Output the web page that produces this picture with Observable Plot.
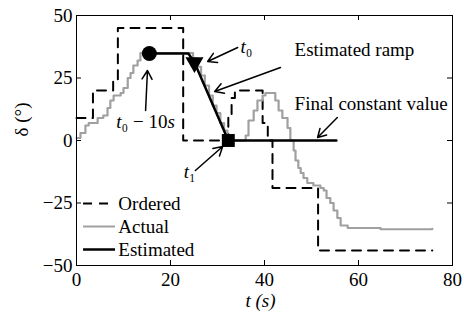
<!DOCTYPE html>
<html><head><meta charset="utf-8">
<script src="https://cdn.jsdelivr.net/npm/d3@7"></script>
<script src="https://cdn.jsdelivr.net/npm/@observablehq/plot@0.6"></script>
<style>body{margin:0;background:#fff} svg{display:block}</style>
</head><body><div id="chart"></div>
<script>
// ---- data ----
const seriesNames = ["Ordered", "Actual", "Estimated"];
const xTicks = [0, 20, 40, 60, 80];
const yTicks = [-50, -25, 0, 25, 50];
const xLabel = "t (s)";
const yLabel = "δ (°)";

const orderedT = [0, 3.5, 7.8, 8.8, 22.7, 32.3, 33, 33.7, 39.6, 40.7, 41.7, 51.4, 75.7];
const orderedV = [9, 20, 24, 45, 0, 10, 17, 20, 7, 0, -19, -44, -44];

const actualT = [0, 0.85, 1.9, 2.6, 4.5, 5.7, 6.6, 7.2, 7.9, 9.4, 10, 10.9, 11.5, 12.1, 13, 13.6, 15.5, 24, 24.8, 25.6, 26.5, 27.3, 28.2, 29, 29.8, 30.6, 31.4, 32.1, 32.5, 34.9, 36, 36.6, 37.7, 38.5, 39.6, 40.2, 41.7, 42.3, 43, 43.8, 44.9, 45.5, 46.2, 46.6, 47.2, 47.7, 48.3, 49.1, 50.4, 51.9, 52.6, 53.2, 54, 54.7, 55.5, 56.2, 57.7, 64.7, 75.7];
const actualV = [1, 3, 6, 7, 9, 10, 13, 16, 18, 19, 21, 25, 27, 30, 32, 35, 35, 35, 33, 29.5, 26, 22, 18, 14, 11, 7, 4, 1, 0, 0, 2, 8, 12, 16, 18, 19, 19, 16, 12, 9, 5, 0, -4, -8, -11, -13, -15, -17, -18, -19, -20, -23, -25, -28, -31, -34, -35, -35.5, -35.3];

const estimatedT = [15.5, 23.8, 25.1, 32.3, 55.3];
const estimatedV = [34.8, 34.8, 31.2, 0, 0];

const markerT = [15.5, 25.1, 32.3];
const markerV = [34.8, 31.2, 0];
const markerSymbols = ["circle", "triangle", "square"];

const annotationTexts = ["t₀ − 10s", "t₀", "Estimated ramp", "Final constant value", "t₁"];

// ---- build tables ----
const ordered = orderedT.map((t, i) => ({t, v: orderedV[i]}));
const actual = actualT.map((t, i) => ({t, v: actualV[i]}));
const estimated = estimatedT.map((t, i) => ({t, v: estimatedV[i]}));
const markers = markerT.map((t, i) => ({t, v: markerV[i], s: markerSymbols[i]}));

const styles = [
  {stroke: "black", strokeWidth: 2, dash: "9,7"},
  {stroke: "#a0a0a0", strokeWidth: 2.2, dash: null},
  {stroke: "black", strokeWidth: 2.5, dash: null}
];
const legend = seriesNames.map((name, i) => ({name, y: -25.2 - i * 9.2}));

const annoMiddle = [{text: annotationTexts[0], x: 14.7, y: 7.4}];
const annoStart = [
  {text: annotationTexts[1], x: 34.9, y: 37.4},
  {text: annotationTexts[2], x: 46.4, y: 36.4},
  {text: annotationTexts[3], x: 46.4, y: 14.6},
  {text: annotationTexts[4], x: 22.8, y: -12.4}
];
const arrows = [
  {x1: 14.7, y1: 12, x2: 15.1, y2: 28},
  {x1: 34.3, y1: 37.2, x2: 27.9, y2: 31.6},
  {x1: 43.4, y1: 29.2, x2: 29.4, y2: 19.6},
  {x1: 55.5, y1: 9.2, x2: 51.3, y2: 1.2},
  {x1: 25.3, y1: -12, x2: 31.1, y2: -2.4}
];

const serif = "'Liberation Serif', 'Times New Roman', serif";
const xDom = [0, 80], yDom = [-50, 50];
const tickX = 5 * (xDom[1] - xDom[0]) / 376;  // 5px inward in data units
const tickY = 5 * (yDom[1] - yDom[0]) / 250;

const chart = Plot.plot({
  width: 464, height: 321,
  marginLeft: 76, marginRight: 12, marginTop: 15, marginBottom: 56,
  x: {domain: xDom},
  y: {domain: yDom},
  style: {fontFamily: serif, fontSize: "19px", background: "white", color: "black"},
  marks: [
    Plot.line(ordered, {x: "t", y: "v", curve: "step-after", stroke: styles[0].stroke, strokeWidth: styles[0].strokeWidth, strokeDasharray: styles[0].dash}),
    Plot.line(actual, {x: "t", y: "v", curve: "step-after", stroke: styles[1].stroke, strokeWidth: styles[1].strokeWidth}),
    Plot.line(estimated, {x: "t", y: "v", stroke: styles[2].stroke, strokeWidth: styles[2].strokeWidth}),
    Plot.dot(markers.filter(d => d.s === "circle"), {x: "t", y: "v", symbol: "circle", r: 7.5, fill: "black"}),
    Plot.dot(markers.filter(d => d.s === "triangle"), {x: "t", y: "v", symbol: "triangle", r: 6.7, fill: "black", rotate: 180}),
    Plot.dot(markers.filter(d => d.s === "square"), {x: "t", y: "v", symbol: "square", r: 7.3, fill: "black"}),
    Plot.arrow(arrows, {x1: "x1", y1: "y1", x2: "x2", y2: "y2", stroke: "black", strokeWidth: 1.5, headLength: 10}),
    Plot.text(annoMiddle, {x: "x", y: "y", text: "text", textAnchor: "middle", fontSize: 19, fill: "black"}),
    Plot.text(annoStart, {x: "x", y: "y", text: "text", textAnchor: "start", fontSize: 19, fill: "black"}),
    // legend
    ...legend.map((d, i) => Plot.ruleY([d], {y: "y", x1: 1.5, x2: 8.3, stroke: styles[i].stroke, strokeWidth: styles[i].strokeWidth, strokeDasharray: styles[i].dash})),
    Plot.text(legend, {x: 8.9, y: "y", text: "name", textAnchor: "start", fontSize: 19, fill: "black"}),
    // inward ticks on all four sides
    Plot.ruleX(xTicks, {x: d => d, y1: yDom[0], y2: yDom[0] + tickY, stroke: "black"}),
    Plot.ruleX(xTicks, {x: d => d, y1: yDom[1], y2: yDom[1] - tickY, stroke: "black"}),
    Plot.ruleY(yTicks, {y: d => d, x1: xDom[0], x2: xDom[0] + tickX, stroke: "black"}),
    Plot.ruleY(yTicks, {y: d => d, x1: xDom[1], x2: xDom[1] - tickX, stroke: "black"}),
    Plot.frame({stroke: "black", strokeWidth: 1}),
    Plot.axisX(xTicks, {anchor: "bottom", tickSize: 0, tickPadding: 7, label: null, fontSize: 19}),
    Plot.axisY(yTicks, {anchor: "left", tickSize: 0, tickPadding: 4, label: null, fontSize: 19}),
    Plot.text([xLabel], {frameAnchor: "bottom", dy: 41, dx: -4, fontSize: 19, fill: "black"}),
    Plot.text([yLabel], {frameAnchor: "left", dx: -55, dy: -4, rotate: -90, fontSize: 19, fill: "black"})
  ]
});
// style math-like annotation texts: italic variable letters, upright digits
chart.querySelectorAll("text").forEach(el => {
  const s = el.textContent;
  const parts = s === "t₀ − 10s" ? [["t","i"],["₀","n"],[" − 10","n"],["s","i"]]
    : s === "t₀" ? [["t","i"],["₀","n"]]
    : s === "t₁" ? [["t","i"],["₁","n"]]
    : s === "t (s)" ? [["t","i"],[" (","i"],["s","i"],[")","i"]] : null;
  if (!parts) return;
  el.textContent = "";
  for (const [txt, st] of parts) {
    const ts = document.createElementNS("http://www.w3.org/2000/svg", "tspan");
    ts.textContent = txt;
    ts.setAttribute("font-style", st === "i" ? "italic" : "normal");
    el.appendChild(ts);
  }
});
document.getElementById("chart").appendChild(chart);
</script>
</body></html>
